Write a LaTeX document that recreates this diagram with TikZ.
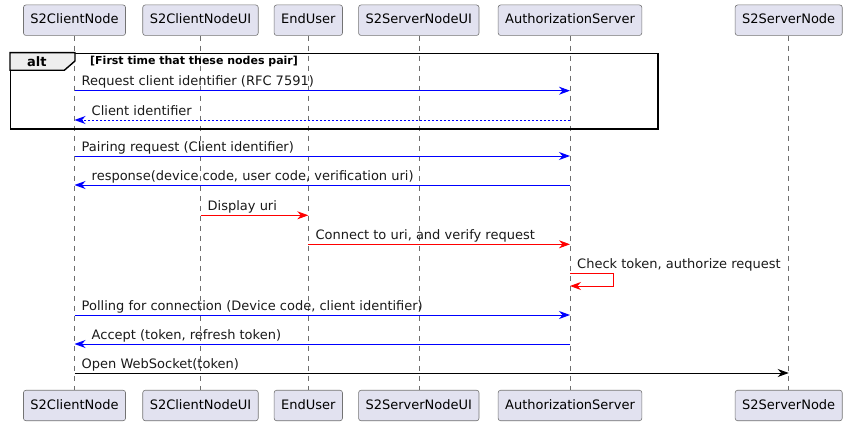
\documentclass[tikz,border=0pt]{standalone}
\usepackage{fontspec}
\setmainfont{DejaVu Sans}
\usetikzlibrary{arrows.meta}

\definecolor{boxfill}{HTML}{E2E2F0}
\definecolor{tabfill}{HTML}{EEEEEE}
\definecolor{lifegray}{HTML}{6E6E6E}

\begin{document}
\begin{tikzpicture}
        [x=1pt, y=-1pt,
        every node/.style={font=\fontsize{13}{15}\selectfont},
        actorbox/.style={draw=black!55, line width=0.6pt, fill=boxfill, rounded corners=2.5pt,
          inner xsep=7pt, minimum height=30.5pt, text height=9.5pt, text depth=2.5pt},
        lifeline/.style={draw=lifegray, line width=0.6pt, dash pattern=on 5pt off 5pt},
        msg/.style={line width=0.9pt, -{Stealth[length=11pt, width=8pt, inset=3.5pt]}},
        bluemsg/.style={msg, blue},
        redmsg/.style={msg, red},
        blackmsg/.style={msg, black},
        retmsg/.style={bluemsg, dash pattern=on 2pt off 2pt},
        msglabel/.style={anchor=base west, inner sep=0pt, text=black!90},
        altframe/.style={draw=black, line width=1.4pt}]

    \useasboundingbox (0,0) rectangle (855,428);

    % participants, top row
    \node (cnT)   [actorbox] at (74.5,20.2)  {S2ClientNode};
    \node (cuiT)  [actorbox] at (200.5,20.2) {S2ClientNodeUI};
    \node (euT)   [actorbox] at (308.3,20.2) {EndUser};
    \node (suiT)  [actorbox] at (418.8,20.2) {S2ServerNodeUI};
    \node (asT)   [actorbox] at (570,20.2)   {AuthorizationServer};
    \node (snT)   [actorbox] at (788.7,20.2) {S2ServerNode};

    % participants, bottom row
    \node (cnB)   [actorbox] at (74.5,405.5)  {S2ClientNode};
    \node (cuiB)  [actorbox] at (200.5,405.5) {S2ClientNodeUI};
    \node (euB)   [actorbox] at (308.3,405.5) {EndUser};
    \node (suiB)  [actorbox] at (418.8,405.5) {S2ServerNodeUI};
    \node (asB)   [actorbox] at (570,405.5)   {AuthorizationServer};
    \node (snB)   [actorbox] at (788.7,405.5) {S2ServerNode};

    \draw[lifeline] (cnT) -- (cnB);
    \draw[lifeline] (cuiT) -- (cuiB);
    \draw[lifeline] (euT) -- (euB);
    \draw[lifeline] (suiT) -- (suiB);
    \draw[lifeline] (asT) -- (asB);
    \draw[lifeline] (snT) -- (snB);

    % alt fragment
    \node (altbox) [altframe, anchor=north west, inner sep=0pt,
      minimum width=647.3pt, minimum height=75.6pt] at (10,52.7) {};
    \filldraw[altframe, fill=tabfill] (10,52.7) -- (75,52.7) -- (75,61) -- (64.3,70.3)
      -- (10,70.3) -- cycle;
    \node (altname) [anchor=base west, inner sep=0pt, font=\bfseries\fontsize{13}{15}\selectfont]
      at (27,66.5) {alt};
    \node (altcond) [anchor=base west, inner sep=0pt, font=\bfseries\fontsize{11}{13}\selectfont]
      at (90,65) {[First time that these nodes pair]};

    % message rows
    \coordinate (r1) at (0,90.7);
    \coordinate (r2) at (0,120);
    \coordinate (r3) at (0,156);
    \coordinate (r4) at (0,185);
    \coordinate (r5) at (0,215.3);
    \coordinate (r6) at (0,244.3);
    \coordinate (r7) at (0,273.3);
    \coordinate (r7b) at (0,286);
    \coordinate (r8) at (0,315);
    \coordinate (r9) at (0,344);
    \coordinate (r10) at (0,373);

    \draw[bluemsg] (cnT |- r1) -- (asT |- r1);
    \node (l1) [msglabel] at ([shift={(7,-5)}]cnT |- r1) {Request client identifier (RFC 7591)};
    \draw[retmsg] (asT |- r2) -- (cnT |- r2);
    \node (l2) [msglabel] at ([shift={(17,-5)}]cnT |- r2) {Client identifier};

    \draw[bluemsg] (cnT |- r3) -- (asT |- r3);
    \node (l3) [msglabel] at ([shift={(7,-5)}]cnT |- r3) {Pairing request (Client identifier)};
    \draw[bluemsg] (asT |- r4) -- (cnT |- r4);
    \node (l4) [msglabel] at ([shift={(17,-5)}]cnT |- r4) {response(device code, user code, verification uri)};

    \draw[redmsg] (cuiT |- r5) -- (euT |- r5);
    \node (l5) [msglabel] at ([shift={(7,-5)}]cuiT |- r5) {Display uri};
    \draw[redmsg] (euT |- r6) -- (asT |- r6);
    \node (l6) [msglabel] at ([shift={(7,-5)}]euT |- r6) {Connect to uri, and verify request};
    \draw[redmsg] (asT |- r7) -- ++(43,0) |- (asT |- r7b);
    \node (l7) [msglabel] at ([shift={(7,-5)}]asT |- r7) {Check token, authorize request};

    \draw[bluemsg] (cnT |- r8) -- (asT |- r8);
    \node (l8) [msglabel] at ([shift={(7,-5)}]cnT |- r8) {Polling for connection (Device code, client identifier)};
    \draw[bluemsg] (asT |- r9) -- (cnT |- r9);
    \node (l9) [msglabel] at ([shift={(17,-5)}]cnT |- r9) {Accept (token, refresh token)};

    \draw[blackmsg] (cnT |- r10) -- (snT |- r10);
    \node (l10) [msglabel] at ([shift={(7,-5)}]cnT |- r10) {Open WebSocket(token)};
\end{tikzpicture}
\end{document}
